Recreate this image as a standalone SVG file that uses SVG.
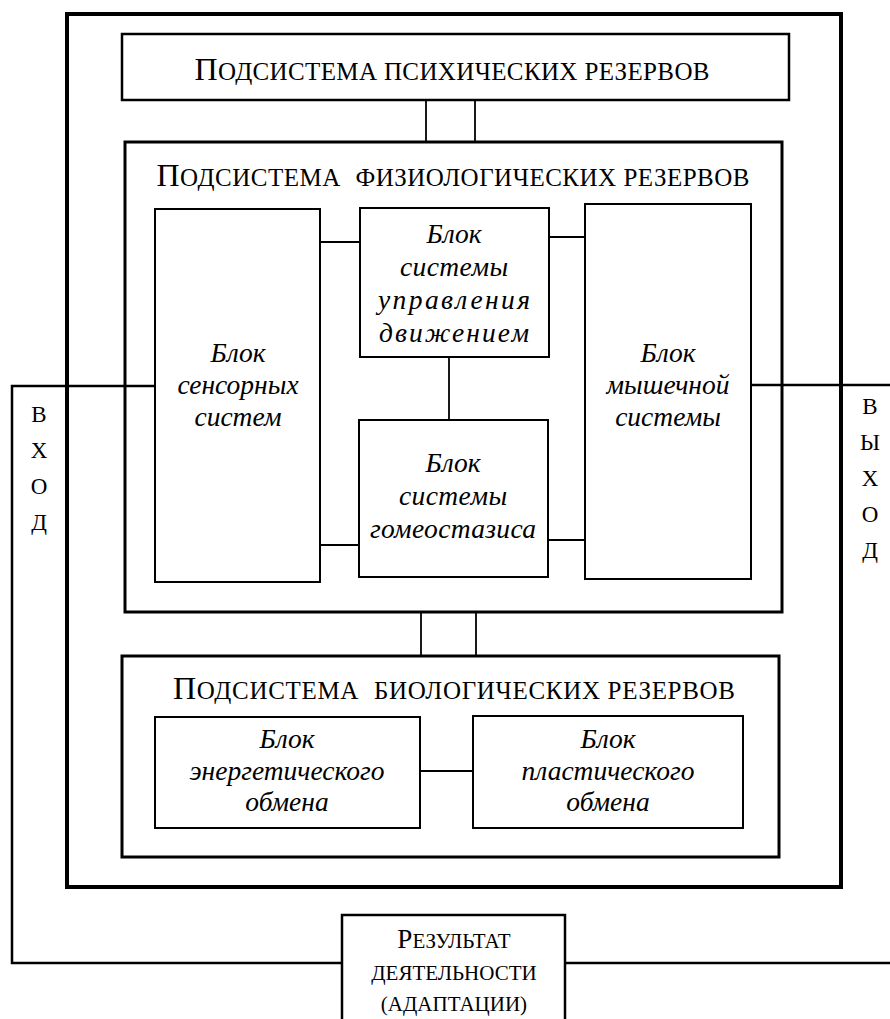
<svg xmlns="http://www.w3.org/2000/svg" width="890" height="1019" viewBox="0 0 890 1019">
<style>
.bg{fill:#fff}
.frame{fill:none;stroke:#000;stroke-width:4}
.sub{fill:none;stroke:#000;stroke-width:3}
.blk{fill:none;stroke:#000;stroke-width:2}
.ln{fill:none;stroke:#000;stroke-width:1.8}
.loop{fill:none;stroke:#000;stroke-width:2.5}
.sc{font-family:"Liberation Serif","DejaVu Serif",serif;font-size:25px;fill:#000;text-anchor:middle}
.big{font-size:32px}
.it{font-family:"Liberation Serif","DejaVu Serif",serif;font-style:italic;font-size:27.5px;fill:#000;text-anchor:middle}
.res{font-family:"Liberation Serif","DejaVu Serif",serif;font-size:21px;fill:#000;text-anchor:middle}
.rbig{font-size:27px}
.lt{font-family:"Liberation Serif","DejaVu Serif",serif;font-size:23px;fill:#000;text-anchor:middle}
</style>
<rect class="bg" x="0" y="0" width="890" height="1019"/>

<g id="connectors">
  <line class="ln" x1="426" y1="100" x2="426" y2="142"/>
  <line class="ln" x1="475" y1="100" x2="475" y2="142"/>
  <line class="ln" x1="421" y1="612" x2="421" y2="656"/>
  <line class="ln" x1="476" y1="612" x2="476" y2="656"/>
  <line class="ln" x1="320" y1="242" x2="360" y2="242"/>
  <line class="ln" x1="549" y1="237" x2="585" y2="237"/>
  <line class="ln" x1="320" y1="545" x2="359" y2="545"/>
  <line class="ln" x1="548" y1="540" x2="585" y2="540"/>
  <line class="ln" x1="449" y1="357" x2="449" y2="420"/>
  <line class="ln" x1="420" y1="771" x2="473" y2="771"/>
  <polyline class="loop" points="155,386 12,386 12,963 342,963"/>
  <line class="loop" x1="751" y1="385" x2="890" y2="385"/>
  <line class="loop" x1="565" y1="963" x2="890" y2="963"/>
</g>

<g id="outer">
  <rect class="frame" x="67" y="14" width="774" height="873"/>
</g>

<g id="psych">
  <rect class="sub" x="122" y="34" width="667" height="66" style="stroke-width:2.5"/>
  <text class="sc" x="452" y="80" textLength="515" lengthAdjust="spacing"><tspan class="big">П</tspan>ОДСИСТЕМА ПСИХИЧЕСКИХ РЕЗЕРВОВ</text>
</g>

<g id="physio">
  <rect class="sub" x="125" y="142" width="657" height="470"/>
  <text class="sc" x="453" y="186" textLength="593" lengthAdjust="spacing"><tspan class="big">П</tspan>ОДСИСТЕМА <tspan dx="8">ФИЗИОЛОГИЧЕСКИХ РЕЗЕРВОВ</tspan></text>
</g>

<g id="sensory">
  <rect class="blk" x="155" y="209" width="165" height="373"/>
  <text class="it" x="238" y="362">Блок</text>
  <text class="it" x="238" y="394">сенсорных</text>
  <text class="it" x="238" y="426">систем</text>
</g>

<g id="control">
  <rect class="blk" x="360" y="208" width="189" height="149"/>
  <text class="it" x="454" y="243">Блок</text>
  <text class="it" x="454" y="276" textLength="108" lengthAdjust="spacing">системы</text>
  <text class="it" x="454" y="309" textLength="152" lengthAdjust="spacing">управления</text>
  <text class="it" x="454" y="342" textLength="150" lengthAdjust="spacing">движением</text>
</g>

<g id="homeostasis">
  <rect class="blk" x="359" y="420" width="189" height="157"/>
  <text class="it" x="453" y="472">Блок</text>
  <text class="it" x="453" y="505" textLength="108" lengthAdjust="spacing">системы</text>
  <text class="it" x="453" y="538" textLength="166" lengthAdjust="spacing">гомеостазиса</text>
</g>

<g id="muscle">
  <rect class="blk" x="585" y="204" width="166" height="375"/>
  <text class="it" x="668" y="362">Блок</text>
  <text class="it" x="668" y="394">мышечной</text>
  <text class="it" x="668" y="426">системы</text>
</g>

<g id="bio">
  <rect class="sub" x="122" y="656" width="657" height="201"/>
  <text class="sc" x="454" y="699" textLength="562" lengthAdjust="spacing"><tspan class="big">П</tspan>ОДСИСТЕМА <tspan dx="8">БИОЛОГИЧЕСКИХ РЕЗЕРВОВ</tspan></text>
</g>

<g id="energy">
  <rect class="blk" x="155" y="717" width="265" height="111"/>
  <text class="it" x="287" y="748">Блок</text>
  <text class="it" x="287" y="780">энергетического</text>
  <text class="it" x="287" y="811">обмена</text>
</g>

<g id="plastic">
  <rect class="blk" x="473" y="716" width="270" height="112"/>
  <text class="it" x="608" y="748">Блок</text>
  <text class="it" x="608" y="780">пластического</text>
  <text class="it" x="608" y="811">обмена</text>
</g>

<g id="result">
  <rect class="sub" x="342" y="915" width="223" height="115" style="stroke-width:2.5"/>
  <text class="res" x="454" y="948"><tspan class="rbig">Р</tspan>ЕЗУЛЬТАТ</text>
  <text class="res" x="454" y="980">ДЕЯТЕЛЬНОСТИ</text>
  <text class="res" x="454" y="1011">(АДАПТАЦИИ)</text>
</g>

<g id="input">
  <text class="lt" x="39" y="422">В</text>
  <text class="lt" x="39" y="458">Х</text>
  <text class="lt" x="39" y="494">О</text>
  <text class="lt" x="39" y="530">Д</text>
</g>

<g id="output">
  <text class="lt" x="870" y="414">В</text>
  <text class="lt" x="870" y="450">Ы</text>
  <text class="lt" x="870" y="486">Х</text>
  <text class="lt" x="870" y="522">О</text>
  <text class="lt" x="870" y="558">Д</text>
</g>
</svg>
